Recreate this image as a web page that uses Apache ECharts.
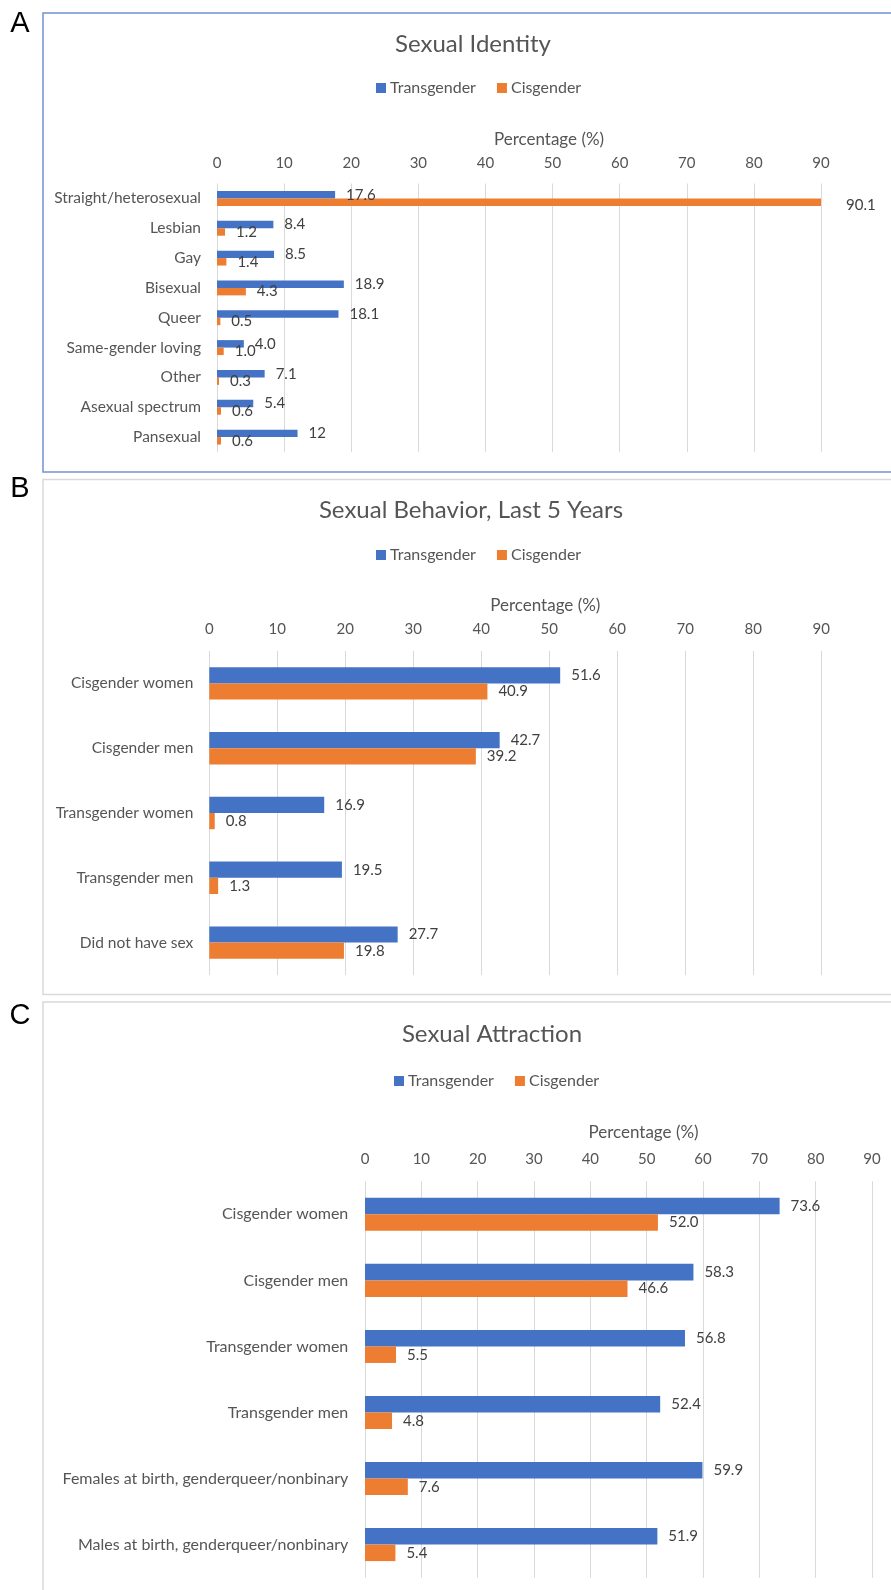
<!DOCTYPE html>
<html><head><meta charset="utf-8">
<script src="https://cdn.jsdelivr.net/npm/echarts@6/dist/echarts.min.js"></script>
<style>html,body{margin:0;padding:0;background:#fff}#c{width:891px;height:1590px}</style>
</head><body><div id="c"></div>
<script>
// ---- data ----
const seriesNames = ['Transgender', 'Cisgender'];
const axisTitle = 'Percentage (%)';
const xMin = 0, xMax = 90, xInterval = 10;

const identityTitle = 'Sexual Identity';
const identityCategories = ['Straight/heterosexual','Lesbian','Gay','Bisexual','Queer','Same-gender loving','Other','Asexual spectrum','Pansexual'];
const identityTrans = ['17.6','8.4','8.5','18.9','18.1','4.0','7.1','5.4','12'];
const identityCis = ['90.1','1.2','1.4','4.3','0.5','1.0','0.3','0.6','0.6'];

const behaviorTitle = 'Sexual Behavior, Last 5 Years';
const behaviorCategories = ['Cisgender women','Cisgender men','Transgender women','Transgender men','Did not have sex'];
const behaviorTrans = ['51.6','42.7','16.9','19.5','27.7'];
const behaviorCis = ['40.9','39.2','0.8','1.3','19.8'];

const attractionTitle = 'Sexual Attraction';
const attractionCategories = ['Cisgender women','Cisgender men','Transgender women','Transgender men','Females at birth, genderqueer/nonbinary','Males at birth, genderqueer/nonbinary'];
const attractionTrans = ['73.6','58.3','56.8','52.4','59.9','51.9'];
const attractionCis = ['52.0','46.6','5.5','4.8','7.6','5.4'];

// ---- layout / style ----
const FONT = 'Lato, "Noto Sans", sans-serif';
const BLUE = '#4472C4', ORANGE = '#ED7D31', GRID = '#d9d9d9', TXT = '#555555', LBL = '#404040';

const panels = [
  { letter:'A', letterY:24, title:identityTitle, titleX:473, titleY:32, cats:identityCategories, trans:identityTrans, cis:identityCis,
    box:{y:13, h:459, stroke:'#7094d4'}, grid:{left:217, right:70, top:183.5, height:268.5},
    legendLeft:376, legendTop:80, nameGap:35, nameShift:30, tickMargin:13, catMargin:16, catSize:15.5,
    labelOffsets:{cis:{0:[14,3]}} },
  { letter:'B', letterY:489, title:behaviorTitle, titleX:471, titleY:498, cats:behaviorCategories, trans:behaviorTrans, cis:behaviorCis,
    box:{y:479.5, h:515, stroke:GRID}, grid:{left:209.3, right:69.7, top:651, height:324},
    legendLeft:376, legendTop:547, nameGap:37, nameShift:30, tickMargin:14, catMargin:16, catSize:15.5,
    labelOffsets:{} },
  { letter:'C', letterY:1016, title:attractionTitle, titleX:492, titleY:1022, cats:attractionCategories, trans:attractionTrans, cis:attractionCis,
    box:{y:1002, h:700, stroke:GRID}, grid:{left:365, right:19, top:1181.3, height:396.3},
    legendLeft:394, legendTop:1073, nameGap:40, nameShift:25, tickMargin:15, catMargin:16.7, catSize:16,
    labelOffsets:{} }
];

const option = {
  animation:false,
  backgroundColor:'#fff',
  title:[], legend:[], grid:[], xAxis:[], yAxis:[], series:[], graphic:[]
};

panels.forEach((p, i) => {
  option.graphic.push({ type:'rect', silent:true, z:-10,
    shape:{x:43, y:p.box.y, width:900, height:p.box.h},
    style:{fill:'none', stroke:p.box.stroke, lineWidth:1.5} });
  option.graphic.push({ type:'text', x:20, y:p.letterY,
    style:{text:p.letter, font:'29px "Liberation Sans", Arial, sans-serif', fill:'#000', align:'center', verticalAlign:'middle'} });
  option.title.push({ text:p.title, left:p.titleX, top:p.titleY, textAlign:'center', padding:0,
    textStyle:{fontFamily:FONT, fontSize:24, fontWeight:'normal', color:TXT} });
  option.legend.push({ data:seriesNames, left:p.legendLeft, top:p.legendTop, icon:'rect', itemWidth:10, itemHeight:10,
    itemGap:21, padding:0, selectedMode:false, textStyle:{fontFamily:FONT, fontSize:16, color:TXT, padding:[0,0,0,-1]} });
  option.grid.push(Object.assign({containLabel:false}, p.grid));
  option.xAxis.push({ type:'value', gridIndex:i, position:'top', min:xMin, max:xMax, interval:xInterval,
    name:axisTitle, nameLocation:'middle', nameGap:p.nameGap,
    nameTextStyle:{fontFamily:FONT, fontSize:17, color:TXT, padding:[0,0,0,p.nameShift*2]},
    axisLine:{show:false}, axisTick:{show:false},
    axisLabel:{fontFamily:FONT, fontSize:15, color:TXT, margin:p.tickMargin},
    splitLine:{show:true, lineStyle:{color:GRID, width:1}} });
  option.yAxis.push({ type:'category', gridIndex:i, data:p.cats, inverse:true,
    axisLine:{show:false}, axisTick:{show:false},
    axisLabel:{fontFamily:FONT, fontSize:p.catSize, color:TXT, margin:p.catMargin} });
  [[p.trans, BLUE, seriesNames[0], 'trans'], [p.cis, ORANGE, seriesNames[1], 'cis']].forEach(([arr, color, name, key]) => {
    const offs = p.labelOffsets[key] || {};
    option.series.push({ type:'bar', name, xAxisIndex:i, yAxisIndex:i,
      data:arr.map((v, k) => offs[k] ? {value:Number(v), label:{offset:offs[k]}} : Number(v)),
      barGap:'0%', barCategoryGap:'50%',
      itemStyle:{color},
      label:{show:true, position:'right', distance:11, fontFamily:FONT, fontSize:15, color:LBL,
        formatter:(prm) => arr[prm.dataIndex]} });
  });
});

const chart = echarts.init(document.getElementById('c'), null, {renderer:'canvas'});
chart.setOption(option);
</script></body></html>
